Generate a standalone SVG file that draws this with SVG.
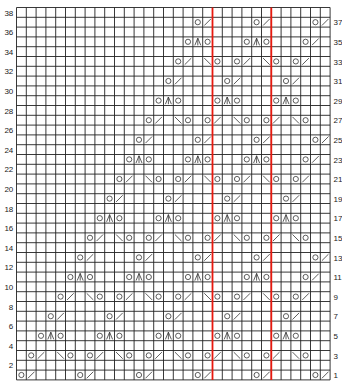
<svg xmlns="http://www.w3.org/2000/svg" xmlns:xlink="http://www.w3.org/1999/xlink" width="342" height="383" viewBox="0 0 342 383">
<style>
.grid{fill:none;stroke:#222;stroke-width:0.9}
.red{stroke:#e8190f;stroke-width:1.8}
.sym{fill:none;stroke:#333;stroke-width:0.8}
.lbl{font-family:"Liberation Sans",Arial,sans-serif;font-size:8px;fill:#222}
</style>
<defs>
<circle id="yo" class="sym" r="2.6"/>
<path id="k2" class="sym" d="M-3.3,3.3L3.3,-3.3"/>
<path id="ssk" class="sym" d="M-3.3,-3.3L3.3,3.3"/>
<path id="cdd" class="sym" d="M-3,3.6L0,-3.6L3,3.6M0,-3.6V3.6"/>
</defs>
<rect width="342" height="383" fill="#fff"/>
<g id="grid">
<path class="grid" d="M16.5 7.5V379.9M26.3 7.5V379.9M36.1 7.5V379.9M45.9 7.5V379.9M55.7 7.5V379.9M65.5 7.5V379.9M75.3 7.5V379.9M85.1 7.5V379.9M94.9 7.5V379.9M104.7 7.5V379.9M114.5 7.5V379.9M124.3 7.5V379.9M134.1 7.5V379.9M143.9 7.5V379.9M153.7 7.5V379.9M163.5 7.5V379.9M173.3 7.5V379.9M183.1 7.5V379.9M192.9 7.5V379.9M202.7 7.5V379.9M212.5 7.5V379.9M222.3 7.5V379.9M232.1 7.5V379.9M241.9 7.5V379.9M251.7 7.5V379.9M261.5 7.5V379.9M271.3 7.5V379.9M281.1 7.5V379.9M290.9 7.5V379.9M300.7 7.5V379.9M310.5 7.5V379.9M320.3 7.5V379.9M330.1 7.5V379.9"/>
<path class="grid" d="M16.5 7.5H330.1M16.5 17.3H330.1M16.5 27.1H330.1M16.5 36.9H330.1M16.5 46.7H330.1M16.5 56.5H330.1M16.5 66.3H330.1M16.5 76.1H330.1M16.5 85.9H330.1M16.5 95.7H330.1M16.5 105.5H330.1M16.5 115.3H330.1M16.5 125.1H330.1M16.5 134.9H330.1M16.5 144.7H330.1M16.5 154.5H330.1M16.5 164.3H330.1M16.5 174.1H330.1M16.5 183.9H330.1M16.5 193.7H330.1M16.5 203.5H330.1M16.5 213.3H330.1M16.5 223.1H330.1M16.5 232.9H330.1M16.5 242.7H330.1M16.5 252.5H330.1M16.5 262.3H330.1M16.5 272.1H330.1M16.5 281.9H330.1M16.5 291.7H330.1M16.5 301.5H330.1M16.5 311.3H330.1M16.5 321.1H330.1M16.5 330.9H330.1M16.5 340.7H330.1M16.5 350.5H330.1M16.5 360.3H330.1M16.5 370.1H330.1M16.5 379.9H330.1"/>
</g>
<g id="repeat-lines">
<path class="red" d="M212.5 7.5V379.9M271.3 7.5V379.9"/>
</g>
<g id="row1" transform="translate(0,375)">
<use href="#yo" x="21.4"/><use href="#k2" x="31.2"/><use href="#yo" x="80.2"/><use href="#k2" x="90"/><use href="#yo" x="139"/><use href="#k2" x="148.8"/><use href="#yo" x="197.8"/><use href="#k2" x="207.6"/><use href="#yo" x="256.6"/><use href="#k2" x="266.4"/><use href="#yo" x="315.4"/><use href="#k2" x="325.2"/>
</g>
<g id="row3" transform="translate(0,355.4)">
<use href="#yo" x="31.2"/><use href="#k2" x="41"/><use href="#ssk" x="60.6"/><use href="#yo" x="70.4"/>
<use href="#yo" x="90"/><use href="#k2" x="99.8"/><use href="#ssk" x="119.4"/><use href="#yo" x="129.2"/>
<use href="#yo" x="148.8"/><use href="#k2" x="158.6"/><use href="#ssk" x="178.2"/><use href="#yo" x="188"/>
<use href="#yo" x="207.6"/><use href="#k2" x="217.4"/><use href="#ssk" x="237"/><use href="#yo" x="246.8"/>
<use href="#yo" x="266.4"/><use href="#k2" x="276.2"/><use href="#ssk" x="295.8"/><use href="#yo" x="305.6"/>
</g>
<g id="row5" transform="translate(0,335.8)">
<use href="#yo" x="41"/><use href="#cdd" x="50.8"/><use href="#yo" x="60.6"/>
<use href="#yo" x="99.8"/><use href="#cdd" x="109.6"/><use href="#yo" x="119.4"/>
<use href="#yo" x="158.6"/><use href="#cdd" x="168.4"/><use href="#yo" x="178.2"/>
<use href="#yo" x="217.4"/><use href="#cdd" x="227.2"/><use href="#yo" x="237"/>
<use href="#yo" x="276.2"/><use href="#cdd" x="286"/><use href="#yo" x="295.8"/>
</g>
<g id="row7" transform="translate(0,316.2)">
<use href="#yo" x="50.8"/><use href="#k2" x="60.6"/><use href="#yo" x="109.6"/><use href="#k2" x="119.4"/><use href="#yo" x="168.4"/><use href="#k2" x="178.2"/><use href="#yo" x="227.2"/><use href="#k2" x="237"/><use href="#yo" x="286"/><use href="#k2" x="295.8"/>
</g>
<g id="row9" transform="translate(0,296.6)">
<use href="#yo" x="60.6"/><use href="#k2" x="70.4"/><use href="#ssk" x="90"/><use href="#yo" x="99.8"/>
<use href="#yo" x="119.4"/><use href="#k2" x="129.2"/><use href="#ssk" x="148.8"/><use href="#yo" x="158.6"/>
<use href="#yo" x="178.2"/><use href="#k2" x="188"/><use href="#ssk" x="207.6"/><use href="#yo" x="217.4"/>
<use href="#yo" x="237"/><use href="#k2" x="246.8"/><use href="#ssk" x="266.4"/><use href="#yo" x="276.2"/>
<use href="#yo" x="295.8"/><use href="#k2" x="305.6"/>
</g>
<g id="row11" transform="translate(0,277)">
<use href="#yo" x="70.4"/><use href="#cdd" x="80.2"/><use href="#yo" x="90"/>
<use href="#yo" x="129.2"/><use href="#cdd" x="139"/><use href="#yo" x="148.8"/>
<use href="#yo" x="188"/><use href="#cdd" x="197.8"/><use href="#yo" x="207.6"/>
<use href="#yo" x="246.8"/><use href="#cdd" x="256.6"/><use href="#yo" x="266.4"/>
<use href="#yo" x="305.6"/><use href="#k2" x="315.4"/>
</g>
<g id="row13" transform="translate(0,257.4)">
<use href="#yo" x="80.2"/><use href="#k2" x="90"/><use href="#yo" x="139"/><use href="#k2" x="148.8"/><use href="#yo" x="197.8"/><use href="#k2" x="207.6"/><use href="#yo" x="256.6"/><use href="#k2" x="266.4"/><use href="#yo" x="315.4"/><use href="#k2" x="325.2"/>
</g>
<g id="row15" transform="translate(0,237.8)">
<use href="#yo" x="90"/><use href="#k2" x="99.8"/><use href="#ssk" x="119.4"/><use href="#yo" x="129.2"/>
<use href="#yo" x="148.8"/><use href="#k2" x="158.6"/><use href="#ssk" x="178.2"/><use href="#yo" x="188"/>
<use href="#yo" x="207.6"/><use href="#k2" x="217.4"/><use href="#ssk" x="237"/><use href="#yo" x="246.8"/>
<use href="#yo" x="266.4"/><use href="#k2" x="276.2"/><use href="#ssk" x="295.8"/><use href="#yo" x="305.6"/>
</g>
<g id="row17" transform="translate(0,218.2)">
<use href="#yo" x="99.8"/><use href="#cdd" x="109.6"/><use href="#yo" x="119.4"/>
<use href="#yo" x="158.6"/><use href="#cdd" x="168.4"/><use href="#yo" x="178.2"/>
<use href="#yo" x="217.4"/><use href="#cdd" x="227.2"/><use href="#yo" x="237"/>
<use href="#yo" x="276.2"/><use href="#cdd" x="286"/><use href="#yo" x="295.8"/>
</g>
<g id="row19" transform="translate(0,198.6)">
<use href="#yo" x="109.6"/><use href="#k2" x="119.4"/><use href="#yo" x="168.4"/><use href="#k2" x="178.2"/><use href="#yo" x="227.2"/><use href="#k2" x="237"/><use href="#yo" x="286"/><use href="#k2" x="295.8"/>
</g>
<g id="row21" transform="translate(0,179)">
<use href="#yo" x="119.4"/><use href="#k2" x="129.2"/><use href="#ssk" x="148.8"/><use href="#yo" x="158.6"/>
<use href="#yo" x="178.2"/><use href="#k2" x="188"/><use href="#ssk" x="207.6"/><use href="#yo" x="217.4"/>
<use href="#yo" x="237"/><use href="#k2" x="246.8"/><use href="#ssk" x="266.4"/><use href="#yo" x="276.2"/>
<use href="#yo" x="295.8"/><use href="#k2" x="305.6"/>
</g>
<g id="row23" transform="translate(0,159.4)">
<use href="#yo" x="129.2"/><use href="#cdd" x="139"/><use href="#yo" x="148.8"/>
<use href="#yo" x="188"/><use href="#cdd" x="197.8"/><use href="#yo" x="207.6"/>
<use href="#yo" x="246.8"/><use href="#cdd" x="256.6"/><use href="#yo" x="266.4"/>
<use href="#yo" x="305.6"/><use href="#k2" x="315.4"/>
</g>
<g id="row25" transform="translate(0,139.8)">
<use href="#yo" x="139"/><use href="#k2" x="148.8"/><use href="#yo" x="197.8"/><use href="#k2" x="207.6"/><use href="#yo" x="256.6"/><use href="#k2" x="266.4"/><use href="#yo" x="315.4"/><use href="#k2" x="325.2"/>
</g>
<g id="row27" transform="translate(0,120.2)">
<use href="#yo" x="148.8"/><use href="#k2" x="158.6"/><use href="#ssk" x="178.2"/><use href="#yo" x="188"/>
<use href="#yo" x="207.6"/><use href="#k2" x="217.4"/><use href="#ssk" x="237"/><use href="#yo" x="246.8"/>
<use href="#yo" x="266.4"/><use href="#k2" x="276.2"/><use href="#ssk" x="295.8"/><use href="#yo" x="305.6"/>
</g>
<g id="row29" transform="translate(0,100.6)">
<use href="#yo" x="158.6"/><use href="#cdd" x="168.4"/><use href="#yo" x="178.2"/>
<use href="#yo" x="217.4"/><use href="#cdd" x="227.2"/><use href="#yo" x="237"/>
<use href="#yo" x="276.2"/><use href="#cdd" x="286"/><use href="#yo" x="295.8"/>
</g>
<g id="row31" transform="translate(0,81)">
<use href="#yo" x="168.4"/><use href="#k2" x="178.2"/><use href="#yo" x="227.2"/><use href="#k2" x="237"/><use href="#yo" x="286"/><use href="#k2" x="295.8"/>
</g>
<g id="row33" transform="translate(0,61.4)">
<use href="#yo" x="178.2"/><use href="#k2" x="188"/><use href="#ssk" x="207.6"/><use href="#yo" x="217.4"/>
<use href="#yo" x="237"/><use href="#k2" x="246.8"/><use href="#ssk" x="266.4"/><use href="#yo" x="276.2"/>
<use href="#yo" x="295.8"/><use href="#k2" x="305.6"/>
</g>
<g id="row35" transform="translate(0,41.8)">
<use href="#yo" x="188"/><use href="#cdd" x="197.8"/><use href="#yo" x="207.6"/>
<use href="#yo" x="246.8"/><use href="#cdd" x="256.6"/><use href="#yo" x="266.4"/>
<use href="#yo" x="305.6"/><use href="#k2" x="315.4"/>
</g>
<g id="row37" transform="translate(0,22.2)">
<use href="#yo" x="197.8"/><use href="#k2" x="207.6"/><use href="#yo" x="256.6"/><use href="#k2" x="266.4"/><use href="#yo" x="315.4"/><use href="#k2" x="325.2"/>
</g>
<g id="labels-left" class="lbl" text-anchor="end">
<text x="13.3" y="368.4">2</text><text x="13.3" y="348.8">4</text><text x="13.3" y="329.2">6</text><text x="13.3" y="309.6">8</text><text x="13.3" y="290">10</text><text x="13.3" y="270.4">12</text><text x="13.3" y="250.8">14</text><text x="13.3" y="231.2">16</text><text x="13.3" y="211.6">18</text><text x="13.3" y="192">20</text><text x="13.3" y="172.4">22</text><text x="13.3" y="152.8">24</text><text x="13.3" y="133.2">26</text><text x="13.3" y="113.6">28</text><text x="13.3" y="94">30</text><text x="13.3" y="74.4">32</text><text x="13.3" y="54.8">34</text><text x="13.3" y="35.2">36</text><text x="13.3" y="15.6">38</text>
</g>
<g id="labels-right" class="lbl">
<text x="333.5" y="378.2">1</text><text x="333.5" y="358.6">3</text><text x="333.5" y="339">5</text><text x="333.5" y="319.4">7</text><text x="333.5" y="299.8">9</text><text x="333.5" y="280.2">11</text><text x="333.5" y="260.6">13</text><text x="333.5" y="241">15</text><text x="333.5" y="221.4">17</text><text x="333.5" y="201.8">19</text><text x="333.5" y="182.2">21</text><text x="333.5" y="162.6">23</text><text x="333.5" y="143">25</text><text x="333.5" y="123.4">27</text><text x="333.5" y="103.8">29</text><text x="333.5" y="84.2">31</text><text x="333.5" y="64.6">33</text><text x="333.5" y="45">35</text><text x="333.5" y="25.4">37</text>
</g>
</svg>
